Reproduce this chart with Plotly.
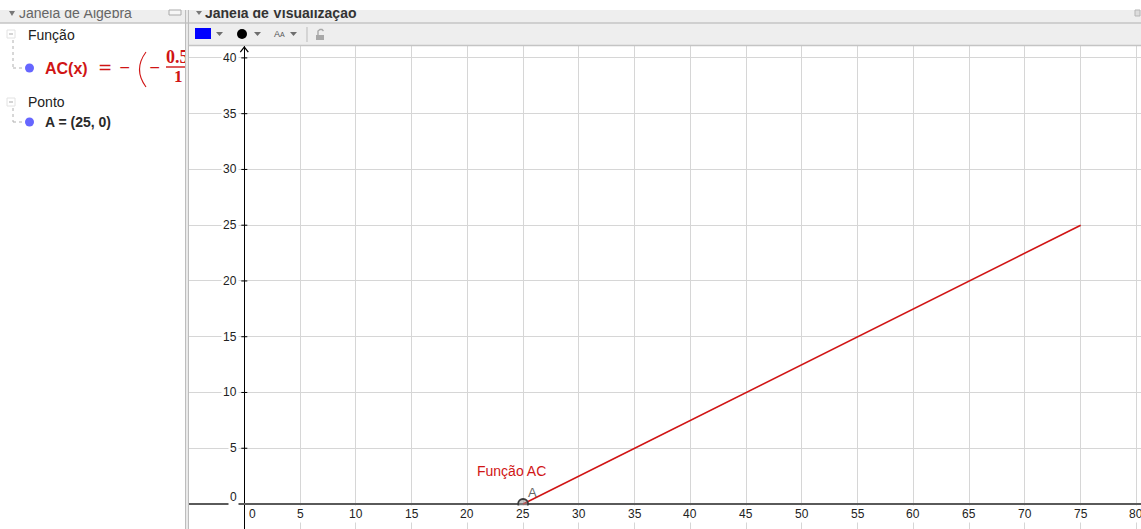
import plotly.graph_objects as go

# ---------------- data ----------------
x_tick_vals = [0, 5, 10, 15, 20, 25, 30, 35, 40, 45, 50, 55, 60, 65, 70, 75, 80]
y_tick_vals = [0, 5, 10, 15, 20, 25, 30, 35, 40]
func_name = "AC"
func_label = "Função AC"
func_x = [25, 75]
func_y = [0, 25]
point_name = "A"
point_x = [25]
point_y = [0]
group_function = "Função"
group_point = "Ponto"
title_algebra = "Janela de Álgebra"
title_graphics = "Janela de Visualização"

# ---------------- geometry (pixels) ----------------
W, H = 1141, 529
ORIGIN_PX = 244.3
ORIGIN_PY = 504.0
UNIT = 11.152
VIEW_LEFT = 189
VIEW_TOP = 46
LEFT_W = 186

RED = "#d01515"
TXT = "#222222"
SANS = "Liberation Sans, Arial, sans-serif"
SERIF = "Liberation Serif, DejaVu Serif, serif"
GREY_BAR = "#eeeeee"
LINE_GREY = "#c4c4c4"


def PX(x):
    return x / W


def PY(y):
    return 1 - y / H


def path_px(points, closed=False):
    s = "M " + " L ".join(f"{PX(x):.5f},{PY(y):.5f}" for x, y in points)
    return s + (" Z" if closed else "")


shapes = []
annotations = []


def rect(x0, y0, x1, y1, fill, line=None, layer="below"):
    shapes.append(dict(type="rect", xref="paper", yref="paper",
                       x0=PX(x0), x1=PX(x1), y0=PY(y1), y1=PY(y0),
                       fillcolor=fill, line=dict(width=0 if line is None else 1,
                                                 color=line or fill), layer=layer))


def seg(x0, y0, x1, y1, color, width=1, dash="solid", layer="above"):
    shapes.append(dict(type="line", xref="paper", yref="paper",
                       x0=PX(x0), x1=PX(x1), y0=PY(y0), y1=PY(y1),
                       line=dict(color=color, width=width, dash=dash), layer=layer))


def tri(points, color):
    shapes.append(dict(type="path", xref="paper", yref="paper",
                       path=path_px(points, True), fillcolor=color,
                       line=dict(width=0, color=color), layer="above"))


def circ(cx, cy, r, fill, line=None, lw=1):
    shapes.append(dict(type="circle", xref="paper", yref="paper",
                       x0=PX(cx - r), x1=PX(cx + r), y0=PY(cy + r), y1=PY(cy - r),
                       fillcolor=fill, line=dict(color=line or fill, width=lw if line else 0),
                       layer="above"))


def ann(text, x, y, size=14, color=TXT, family=SANS, xanchor="left", yanchor="middle"):
    annotations.append(dict(text=text, x=PX(x), y=PY(y), xref="paper", yref="paper",
                            xanchor=xanchor, yanchor=yanchor, showarrow=False,
                            font=dict(size=size, color=color, family=family)))


# ---------------- chrome ----------------
rect(0, 10, W, 23, GREY_BAR)               # title bars
rect(VIEW_LEFT - 1, 23, W, 45, GREY_BAR)    # toolbar
seg(0, 23, W, 23, LINE_GREY, 1.3)
seg(VIEW_LEFT - 1, 45.5, W, 45.5, LINE_GREY, 1.3)
rect(185, 10, 188, H, "#e9e9e9")
seg(185.5, 10, 185.5, H, "#bdbdbd", 1)
seg(188.5, 10, 188.5, H, "#bdbdbd", 1)

# title bar small icons
tri([(9, 11), (15, 11), (12, 16)], "#777777")
tri([(196, 11), (202, 11), (199, 15)], "#777777")
rect(169, 10, 181, 15, "#f6f6f6", "#aaaaaa", layer="above")
rect(1135, 10, 1140, 16, "#dcdcdc", "#b5b5b5", layer="above")

# toolbar icons
rect(195, 28, 211, 39, "#0000ff", layer="above")
tri([(216, 32), (223, 32), (219.5, 36)], "#6e6e6e")
circ(242, 34, 5, "#000000")
tri([(254, 32), (261, 32), (257.5, 36)], "#6e6e6e")
annotations.append(dict(text="A<span style='font-size:7px'>A</span>", x=PX(272), y=PY(34),
                        xref="paper", yref="paper", xanchor="left", yanchor="middle",
                        showarrow=False, font=dict(size=9, color="#555555", family=SANS)))
tri([(290, 32), (297, 32), (293.5, 36)], "#6e6e6e")
seg(307, 27, 307, 42, "#bbbbbb", 1)
rect(316, 35, 324, 40, "#a8a8a8", layer="above")
shapes.append(dict(type="path", xref="paper", yref="paper",
                   path=path_px([(318, 35), (318, 31), (320, 29.5), (322, 29.5), (323.5, 31)]),
                   line=dict(color="#a8a8a8", width=1.4), layer="above"))

# ---------------- algebra view ----------------
for yy in (34, 102):
    rect(7, yy - 4, 15, yy + 4, "#ffffff", "#e2e2e2", layer="above")
    seg(9, yy, 13, yy, "#b8b8b8", 1.2)
ann(group_function, 26, 35, 14, "#222222")
ann(group_point, 26, 102, 14, "#222222")
seg(13, 40, 13, 68, "#b0b0b0", 1, "dot")
seg(13, 68, 25, 68, "#b0b0b0", 1, "dot")
seg(13, 108, 13, 122, "#b0b0b0", 1, "dot")
seg(13, 122, 25, 122, "#b0b0b0", 1, "dot")
circ(29.5, 68, 4.5, "#6666ff")
circ(29.5, 122, 4.5, "#6666ff")

slope = (func_y[1] - func_y[0]) / (func_x[1] - func_x[0])
ann(f"<b>{func_name}(x)</b>", 43, 68, 16, RED)
ann("=", 96, 67, 17, RED, "DejaVu Sans, sans-serif")
ann("−", 117, 67, 14, RED, "DejaVu Sans, sans-serif")
# thin large parenthesis
shapes.append(dict(type="path", xref="paper", yref="paper",
                   path=(f"M {PX(146):.5f},{PY(52):.5f} Q {PX(133):.5f},{PY(69.5):.5f} "
                         f"{PX(146):.5f},{PY(87):.5f}"),
                   line=dict(color=RED, width=1.1), layer="above"))
ann("−", 147, 67, 14, RED, "DejaVu Sans, sans-serif")
ann("<b>1</b>", 178.5, 76, 17, RED, SERIF, xanchor="center")
ann(f"<b>{point_name} = ({point_x[0]}, {point_y[0]})</b>", 43, 122, 14, "#2a2a2a")

# ---------------- figure ----------------
fig = go.Figure()

# main graphics view
fig.add_trace(go.Scatter(x=func_x, y=func_y, mode="lines", line=dict(color=RED, width=1.6),
                         hoverinfo="skip", showlegend=False))
fig.add_trace(go.Scatter(x=point_x, y=point_y, mode="markers",
                         marker=dict(symbol="circle", size=10, color="rgba(150,150,150,0.5)",
                                     line=dict(color="#3a3a3a", width=1.8)),
                         cliponaxis=False, hoverinfo="skip", showlegend=False))

# fraction in algebra view (clipped at panel border)
fig.add_trace(go.Scatter(x=[166], y=[58], mode="text", text=[f"<b>{slope:g}</b>"],
                         textposition="middle right",
                         textfont=dict(size=18, color=RED, family=SERIF),
                         cliponaxis=True, xaxis="x2", yaxis="y2", hoverinfo="skip",
                         showlegend=False))
fig.add_trace(go.Scatter(x=[166, 195], y=[67, 67], mode="lines", line=dict(color=RED, width=1.4),
                         cliponaxis=True, xaxis="x2", yaxis="y2", hoverinfo="skip",
                         showlegend=False))

# panel titles (clipped at top)
fig.add_trace(go.Scatter(x=[19], y=[14], mode="text", text=[title_algebra],
                         textposition="middle right",
                         textfont=dict(size=14, color="#666666", family=SANS),
                         cliponaxis=True, xaxis="x3", yaxis="y3", hoverinfo="skip",
                         showlegend=False))
fig.add_trace(go.Scatter(x=[205], y=[14], mode="text", text=[f"<b>{title_graphics}</b>"],
                         textposition="middle right",
                         textfont=dict(size=14, color="#333333", family=SANS),
                         cliponaxis=True, xaxis="x3", yaxis="y3", hoverinfo="skip",
                         showlegend=False))

# axis tick labels
for v in y_tick_vals:
    annotations.append(dict(text=str(v), x=0, y=v, xref="x", yref="y", xanchor="right",
                            yanchor="middle", xshift=-5, yshift=7 if v == 0 else 0,
                            showarrow=False, bgcolor="#ffffff", borderpad=1,
                            font=dict(size=12, color=TXT, family=SANS)))
    if v != 0:
        shapes.append(dict(type="line", xref="x", yref="y", xsizemode="pixel", xanchor=0,
                           x0=-3, x1=3, y0=v, y1=v, line=dict(color="#000000", width=1),
                           layer="above"))
for v in x_tick_vals:
    annotations.append(dict(text=str(v), x=v, y=0, xref="x", yref="y", xanchor="center",
                            yanchor="middle", yshift=-10, xshift=8 if v == 0 else 0,
                            showarrow=False, bgcolor="#ffffff", borderpad=1,
                            font=dict(size=12, color=TXT, family=SANS)))

# y-axis arrow head
shapes.append(dict(type="path", xref="paper", yref="paper",
                   path=path_px([(ORIGIN_PX - 4, 52), (ORIGIN_PX, 47), (ORIGIN_PX + 4, 52)]),
                   line=dict(color="#000000", width=1.2), layer="above"))

# labels on the graphic
lab_x = (511 - ORIGIN_PX) / UNIT
lab_y = (ORIGIN_PY - 471) / UNIT
annotations.append(dict(text=func_label, x=lab_x, y=lab_y, xref="x", yref="y",
                        xanchor="center", yanchor="middle", showarrow=False,
                        font=dict(size=14, color=RED, family=SANS)))
annotations.append(dict(text=point_name, x=point_x[0], y=point_y[0], xref="x", yref="y",
                        xanchor="center", yanchor="middle", xshift=9, yshift=12,
                        showarrow=False, font=dict(size=13, color="#666666", family=SANS)))

grid = dict(showgrid=True, gridcolor="#d6d6d6", gridwidth=1, dtick=5, tick0=0,
            showticklabels=False, ticks="", showline=False, fixedrange=True)

fig.update_layout(
    width=W, height=H, margin=dict(l=0, r=0, t=0, b=0),
    paper_bgcolor="#ffffff", plot_bgcolor="rgba(0,0,0,0)",
    showlegend=False,
    xaxis=dict(domain=[PX(VIEW_LEFT), 1],
               range=[(VIEW_LEFT - ORIGIN_PX) / UNIT, (W - ORIGIN_PX) / UNIT],
               zeroline=True, zerolinecolor="#000000", zerolinewidth=1.3, **grid),
    yaxis=dict(domain=[0, PY(VIEW_TOP)],
               range=[(ORIGIN_PY - H) / UNIT, (ORIGIN_PY - VIEW_TOP) / UNIT],
               zeroline=True, zerolinecolor="#5a5a5a", zerolinewidth=1.6, **grid),
    xaxis2=dict(domain=[0, PX(LEFT_W)], range=[0, LEFT_W], visible=False, anchor="y2",
                fixedrange=True),
    yaxis2=dict(domain=[0, PY(10)], range=[H, 10], visible=False, anchor="x2",
                fixedrange=True),
    xaxis3=dict(domain=[0, 1], range=[0, W], visible=False, anchor="y3", fixedrange=True),
    yaxis3=dict(domain=[PY(46), PY(10)], range=[46, 10], visible=False, anchor="x3",
                fixedrange=True),
    shapes=shapes,
    annotations=annotations,
)

fig.write_html("out.html", config={"displayModeBar": False},
               post_script="document.body.style.margin='0';document.body.style.overflow='hidden';")
